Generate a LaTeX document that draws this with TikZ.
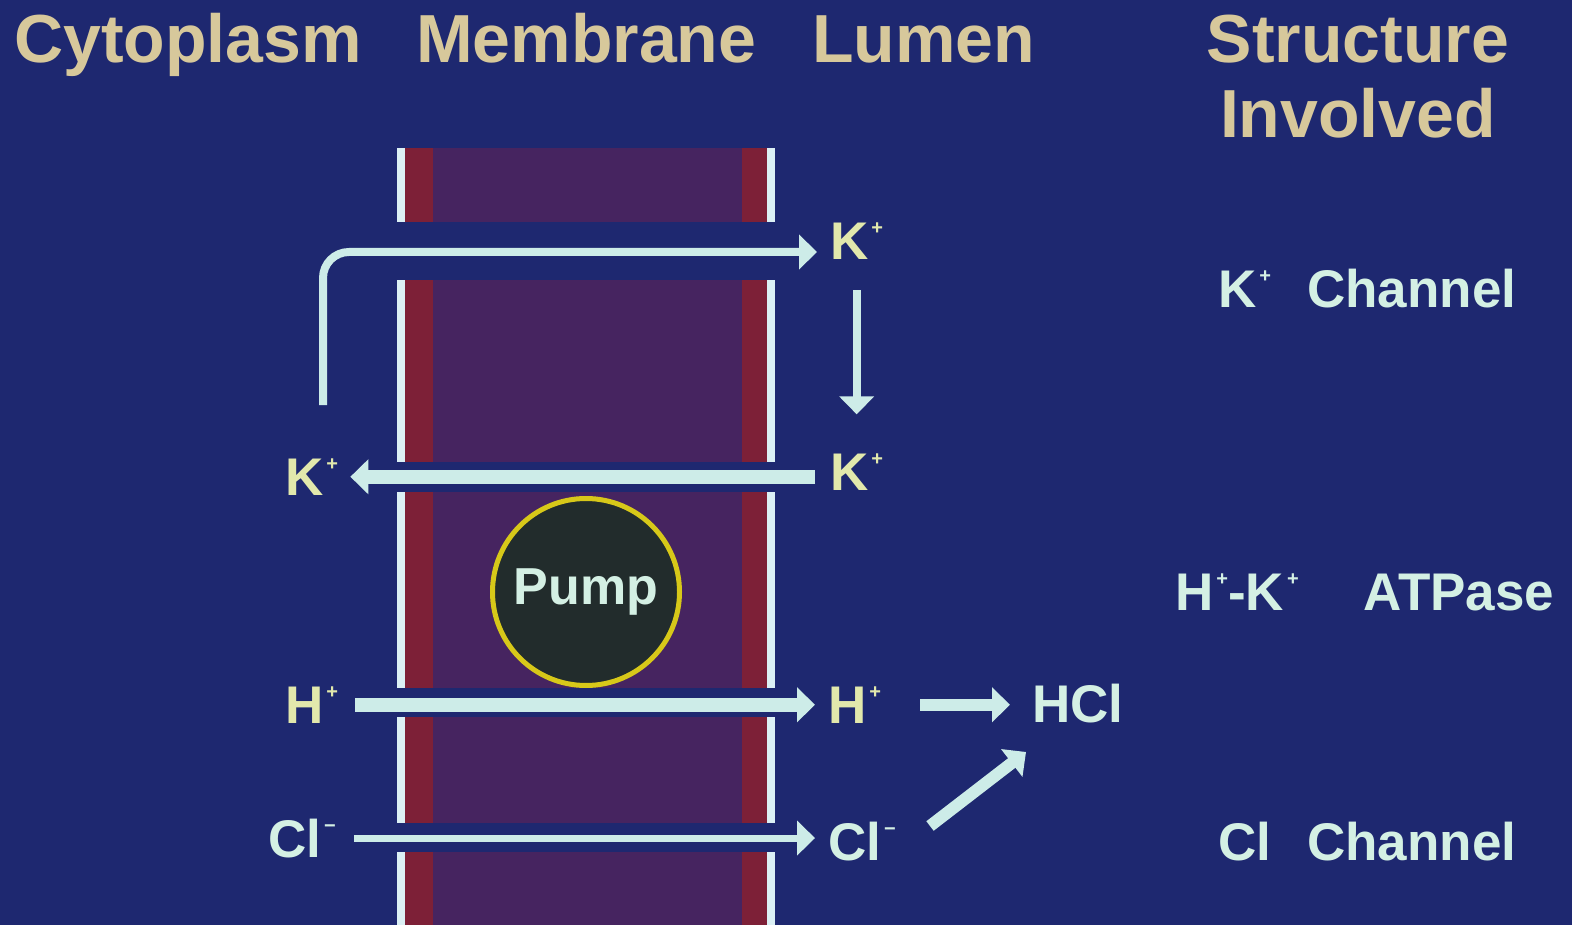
\documentclass[tikz,border=0pt]{standalone}
\usepackage{fontspec}
\setmainfont{Liberation Sans}
\usetikzlibrary{arrows.meta}
\definecolor{bgblue}{RGB}{30,40,112}
\definecolor{headtan}{RGB}{215,200,155}
\definecolor{ionyellow}{RGB}{226,232,172}
\definecolor{ioncyan}{RGB}{212,240,228}
\definecolor{arrowcyan}{RGB}{205,236,232}
\definecolor{memwhite}{RGB}{220,240,245}
\definecolor{memred}{RGB}{125,32,55}
\definecolor{mempurple}{RGB}{70,36,96}
\definecolor{pumpdark}{RGB}{34,44,44}
\definecolor{pumpring}{RGB}{215,200,25}
\newcommand\chg[1]{\kern3pt\smash{\raisebox{25pt}{\fontsize{20}{20}\selectfont #1}}}

\begin{document}
\begin{tikzpicture}[x=1pt,y=-1pt,
  head/.style={font=\bfseries\fontsize{68}{68}\selectfont,text=headtan,inner sep=0,anchor=base west},
  ion/.style={font=\bfseries\fontsize{53}{53}\selectfont,inner sep=0,anchor=base west},
  flow/.style={draw=arrowcyan,-{Triangle[width=34pt,length=18pt]}}]
\useasboundingbox (0,0) rectangle (1572,925);
\fill[bgblue] (0,0) rectangle (1572,925);

% membrane, cut by the four channels
\foreach \ya/\yb in {148/222,280/462,492/688,717/823,852/930}{
  \fill[mempurple] (433,\ya) rectangle (742,\yb);
  \fill[memred] (405,\ya) rectangle (433,\yb);
  \fill[memred] (742,\ya) rectangle (767,\yb);
  \fill[memwhite] (397,\ya) rectangle (405,\yb);
  \fill[memwhite] (767,\ya) rectangle (775,\yb);
}
\node[circle,draw=pumpring,line width=5pt,fill=pumpdark,minimum size=187pt,inner sep=0,
  text=ioncyan,font=\bfseries\fontsize{52}{52}\selectfont] (pump) at (586,592) {Pump};

% headings
\node[head] (cyto) at (14,63) {Cytoplasm};
\node[head] (memb) at (416,63) {Membrane};
\node[head] (lum) at (812,63) {Lumen};
\node[head,anchor=base] (struct) at (1358,63) {Structure};
\node[head,anchor=base] (invol) at (1358,138) {Involved};

% ions
\node[ion,text=ionyellow] (kIn) at (830,260) {K\chg{+}};
\node[ion,text=ionyellow] (kOut) at (830,490) {K\chg{+}};
\node[ion,text=ionyellow] (kCyt) at (285,495) {K\chg{+}};
\node[ion,text=ionyellow] (hCyt) at (285,723) {H\chg{+}};
\node[ion,text=ionyellow] (hLum) at (828,723) {H\chg{+}};
\node[ion,text=ioncyan] (clCyt) at (268,857) {Cl\chg{−}};
\node[ion,text=ioncyan] (clLum) at (828,860) {Cl\chg{−}};
\node[ion,text=ioncyan] (hcl) at (1032,722) {HCl};

% structures
\node[ion,text=ioncyan] (kChan) at (1218,308) {K\chg{+}\hspace{36pt}Channel};
\node[ion,text=ioncyan] (atpase) at (1175,610) {H\chg{+}-K\chg{+}\hspace{65pt}ATPase};
\node[ion,text=ioncyan] (clChan) at (1218,860) {Cl\hspace{36pt}Channel};

% fluxes
\coordinate (loopBot) at (323,405);
\coordinate (loopTop) at (323,252);
\draw[flow,line width=8pt,rounded corners=26pt,shorten >=13pt] (loopBot) -- (loopTop) -- (kIn.west |- loopTop);
\draw[flow,line width=8pt,shorten <=30pt,shorten >=39pt] (kIn.south) -- (kOut.north);
\draw[flow,line width=14pt,shorten <=15pt] (kOut.west |- kCyt.west) -- ([xshift=12pt]kCyt.east);
\draw[flow,line width=14pt,shorten <=17pt,shorten >=13pt] (hCyt.east) -- (hLum.west |- hCyt.east);
\draw[flow,line width=7pt,shorten <=18pt,shorten >=13pt] (clCyt.east) -- (clLum.west |- clCyt.east);
\draw[flow,line width=12pt,shorten <=39pt,shorten >=22pt] (hLum.east) -- (hcl.west |- hLum.east);
\coordinate (clTail) at (930,826);
\coordinate (hclTip) at (1026,752);
\draw[flow,line width=12pt] (clTail) -- (hclTip);
\end{tikzpicture}
\end{document}
